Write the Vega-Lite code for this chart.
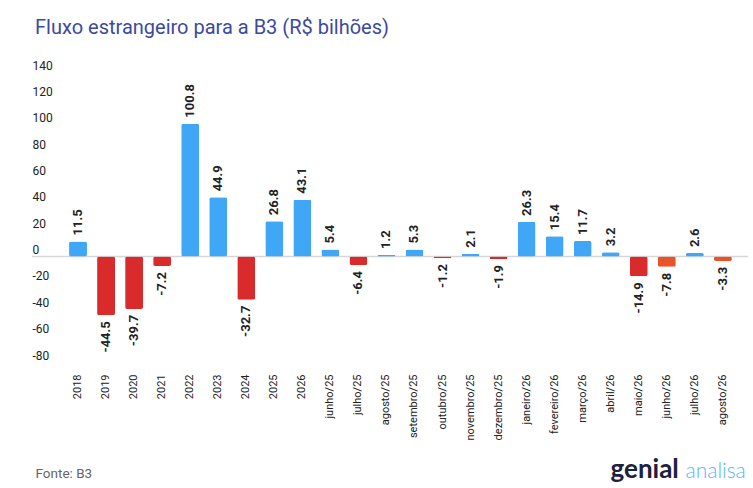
{
  "$schema": "https://vega.github.io/schema/vega-lite/v6.json",
  "width": 716,
  "height": 290,
  "autosize": {"type": "none"},
  "padding": {"left": 32, "top": 72, "right": 5, "bottom": 126},
  "background": "white",
  "config": {"view": {"stroke": null}, "font": "Roboto"},
  "title": {
    "text": "Fluxo estrangeiro para a B3 (R$ bilhões)",
    "anchor": "start",
    "frame": "group",
    "font": "Roboto",
    "fontSize": 20,
    "fontWeight": "normal",
    "color": "#3B4A9E",
    "baseline": "alphabetic",
    "dx": 3,
    "offset": 5
  },
  "data": {
    "values": [
      {"periodo": "2018", "valor": 11.5, "tipo": "entrada"},
      {"periodo": "2019", "valor": -44.5, "tipo": "saida"},
      {"periodo": "2020", "valor": -39.7, "tipo": "saida"},
      {"periodo": "2021", "valor": -7.2, "tipo": "saida"},
      {"periodo": "2022", "valor": 100.8, "tipo": "entrada"},
      {"periodo": "2023", "valor": 44.9, "tipo": "entrada"},
      {"periodo": "2024", "valor": -32.7, "tipo": "saida"},
      {"periodo": "2025", "valor": 26.8, "tipo": "entrada"},
      {"periodo": "2026", "valor": 43.1, "tipo": "entrada"},
      {"periodo": "junho/25", "valor": 5.4, "tipo": "entrada"},
      {"periodo": "julho/25", "valor": -6.4, "tipo": "saida"},
      {"periodo": "agosto/25", "valor": 1.2, "tipo": "entrada"},
      {"periodo": "setembro/25", "valor": 5.3, "tipo": "entrada"},
      {"periodo": "outubro/25", "valor": -1.2, "tipo": "saida"},
      {"periodo": "novembro/25", "valor": 2.1, "tipo": "entrada"},
      {"periodo": "dezembro/25", "valor": -1.9, "tipo": "saida"},
      {"periodo": "janeiro/26", "valor": 26.3, "tipo": "entrada"},
      {"periodo": "fevereiro/26", "valor": 15.4, "tipo": "entrada"},
      {"periodo": "março/26", "valor": 11.7, "tipo": "entrada"},
      {"periodo": "abril/26", "valor": 3.2, "tipo": "entrada"},
      {"periodo": "maio/26", "valor": -14.9, "tipo": "saida"},
      {"periodo": "junho/26", "valor": -7.8, "tipo": "saida_parcial"},
      {"periodo": "julho/26", "valor": 2.6, "tipo": "entrada"},
      {"periodo": "agosto/26", "valor": -3.3, "tipo": "saida_parcial"}
    ]
  },
  "layer": [
    {
      "data": {"values": [{"zero": 0}]},
      "mark": {"type": "rule", "color": "#d6d6d6", "strokeWidth": 1.5},
      "encoding": {
        "y": {
          "field": "zero",
          "type": "quantitative",
          "scale": {"domain": [-80, 140], "nice": false},
          "axis": {
            "orient": "right",
            "labels": false,
            "ticks": false,
            "domain": false,
            "grid": false,
            "title": "genial",
            "titleAngle": 0,
            "titleAlign": "left",
            "titleBaseline": "alphabetic",
            "titleX": -138,
            "titleY": 405,
            "titleFont": "Lato",
            "titleFontSize": 26,
            "titleFontWeight": 700,
            "titleColor": "#1B2140"
          }
        }
      }
    },
    {
      "mark": {"type": "bar", "cornerRadius": 2},
      "encoding": {
        "x": {
          "field": "periodo",
          "type": "nominal",
          "sort": null,
          "scale": {"paddingInner": 0.36, "paddingOuter": 0.9475, "align": 0.697},
          "axis": {
            "labelAngle": -90,
            "labelFontSize": 11,
            "labelColor": "#222222",
            "labelPadding": 12,
            "ticks": false,
            "domain": false,
            "grid": false,
            "title": "Fonte: B3",
            "titleX": 3,
            "titleY": 115,
            "titleAlign": "left",
            "titleBaseline": "alphabetic",
            "titleFontSize": 13.5,
            "titleFontWeight": "normal",
            "titleColor": "#666666"
          }
        },
        "y": {
          "field": "valor",
          "type": "quantitative",
          "scale": {"domain": [-80, 140], "nice": false},
          "axis": {
            "values": [-80, -60, -40, -20, 0, 20, 40, 60, 80, 100, 120, 140],
            "labelExpr": "'' + datum.value",
            "labelAlign": "left",
            "labelBaseline": "bottom",
            "labelPadding": 0,
            "labelFlush": false,
            "labelFontSize": 12,
            "labelColor": "#222222",
            "ticks": false,
            "domain": false,
            "grid": false,
            "title": null
          }
        },
        "color": {
          "field": "tipo",
          "type": "nominal",
          "scale": {
            "domain": ["entrada", "saida", "saida_parcial"],
            "range": ["#3FA7F5", "#D92B2B", "#E8532A"]
          },
          "legend": null
        }
      }
    },
    {
      "transform": [{"filter": "datum.valor >= 0"}],
      "mark": {
        "type": "text",
        "angle": 270,
        "align": "left",
        "baseline": "middle",
        "dx": 6,
        "font": "Roboto",
        "fontSize": 13,
        "fontWeight": "bold",
        "color": "#222222"
      },
      "encoding": {
        "x": {
          "field": "periodo",
          "type": "nominal",
          "sort": null,
          "axis": {
            "orient": "top",
            "labels": false,
            "ticks": false,
            "domain": false,
            "grid": false,
            "title": "analisa",
            "titleX": 653,
            "titleY": 405,
            "titleAlign": "left",
            "titleBaseline": "alphabetic",
            "titleFont": "Lato",
            "titleFontSize": 21,
            "titleFontWeight": 300,
            "titleColor": "#5BB4F7"
          }
        },
        "y": {"field": "valor", "type": "quantitative", "axis": null},
        "text": {"field": "valor", "type": "nominal"}
      }
    },
    {
      "transform": [{"filter": "datum.valor < 0"}],
      "mark": {
        "type": "text",
        "angle": 270,
        "align": "right",
        "baseline": "middle",
        "dx": -6,
        "font": "Roboto",
        "fontSize": 13,
        "fontWeight": "bold",
        "color": "#222222"
      },
      "encoding": {
        "x": {"field": "periodo", "type": "nominal", "sort": null, "axis": null},
        "y": {"field": "valor", "type": "quantitative", "axis": null},
        "text": {"field": "valor", "type": "nominal"}
      }
    }
  ],
  "resolve": {"axis": {"x": "independent", "y": "independent"}}
}
